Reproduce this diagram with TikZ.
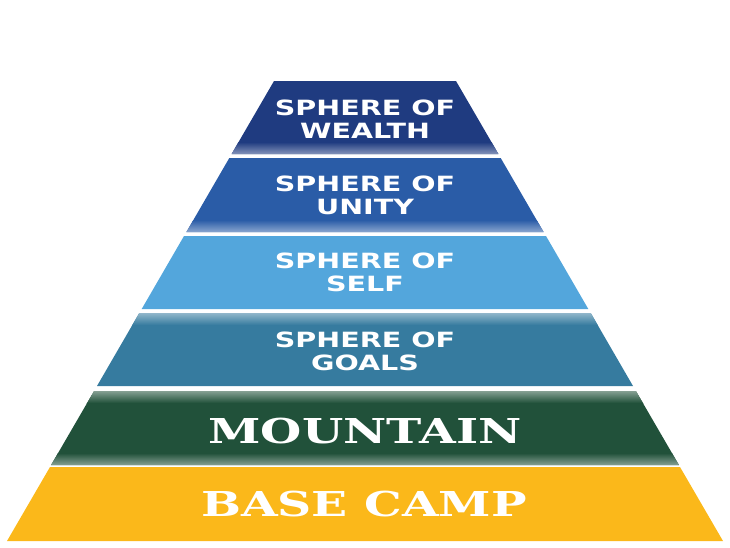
\documentclass[tikz,border=0pt]{standalone}
\usepackage{fontspec}
\usepackage{tikz}
\newfontfamily\spherefont[FakeStretch=1.36]{DejaVu Sans Bold}
\newfontfamily\campfont[FakeStretch=1.38]{DejaVu Serif Bold}
\definecolor{wealthblue}{HTML}{1F3B80}
\definecolor{unityblue}{HTML}{2A5CA7}
\definecolor{selfblue}{HTML}{53A6DC}
\definecolor{goalsblue}{HTML}{367B9F}
\definecolor{mountaingreen}{HTML}{21513A}
\definecolor{campyellow}{HTML}{FBB81A}

\begin{document}
\begin{tikzpicture}[x=1pt, y=-1pt,
    sphere/.style={text=white, align=center, inner sep=0pt, font=\spherefont\fontsize{21}{23}\selectfont},
    camp/.style={text=white, inner sep=0pt, anchor=base, font=\campfont\fontsize{34.3}{40}\selectfont}]
    \useasboundingbox (0,0) rectangle (730,547);

    % Wealth (top)
    \fill[wealthblue] (274,81) -- (456,81) -- (498.4,154) -- (231.6,154) -- cycle;
    \begin{scope}
        \clip (274,81) -- (456,81) -- (498.4,154) -- (231.6,154) -- cycle;
        \shade[top color=wealthblue, bottom color=wealthblue!55!white] (0,142) rectangle (730,154);
    \end{scope}
    \node[sphere] (wealth) at (365,119) {SPHERE OF\\WEALTH};

    % Unity
    \fill[unityblue] (229.3,158) -- (500.7,158) -- (543.6,232) -- (186.4,232) -- cycle;
    \begin{scope}
        \clip (229.3,158) -- (500.7,158) -- (543.6,232) -- (186.4,232) -- cycle;
        \shade[top color=unityblue, bottom color=unityblue!55!white] (0,220) rectangle (730,232);
    \end{scope}
    \node[sphere] (unity) at (365,195) {SPHERE OF\\UNITY};

    % Self
    \fill[selfblue] (184,236) -- (546,236) -- (588.3,309) -- (141.7,309) -- cycle;
    \node[sphere] (self) at (365,272.5) {SPHERE OF\\SELF};

    % Goals
    \fill[goalsblue] (139.3,313) -- (590.7,313) -- (633,386) -- (97,386) -- cycle;
    \begin{scope}
        \clip (139.3,313) -- (590.7,313) -- (633,386) -- (97,386) -- cycle;
        \shade[top color=goalsblue!55!white, bottom color=goalsblue] (0,313) rectangle (730,325);
    \end{scope}
    \node[sphere] (goals) at (365,351) {SPHERE OF\\GOALS};

    % Mountain
    \fill[mountaingreen] (94.1,391) -- (635.9,391) -- (678.9,465) -- (51.1,465) -- cycle;
    \begin{scope}
        \clip (94.1,391) -- (635.9,391) -- (678.9,465) -- (51.1,465) -- cycle;
        \shade[top color=mountaingreen!55!white, bottom color=mountaingreen] (0,391) rectangle (730,403);
        \shade[top color=mountaingreen, bottom color=mountaingreen!55!white] (0,453) rectangle (730,465);
    \end{scope}
    \node[camp] (mountain) at (365,443) {MOUNTAIN};

    % Base camp (bottom)
    \fill[campyellow] (50,467) -- (680,467) -- (723,541) -- (7,541) -- cycle;
    \node[camp] (basecamp) at (364,516) {BASE CAMP};
\end{tikzpicture}
\end{document}
